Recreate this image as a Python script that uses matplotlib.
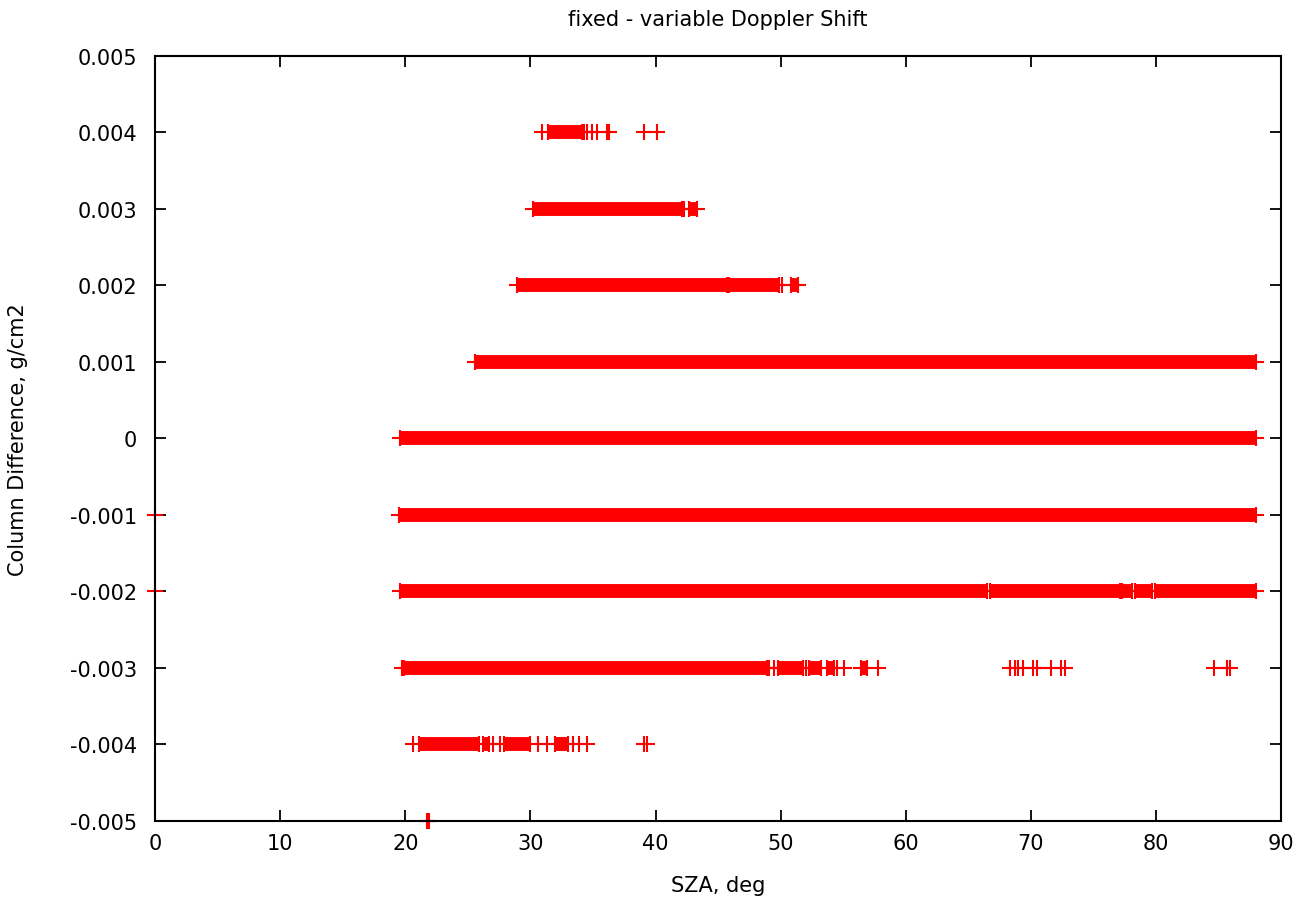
import matplotlib
matplotlib.use('Agg')
import matplotlib.pyplot as plt

# Column difference levels (g/cm2) and the SZA data at each level.
# runs_* : dense stretches of points (first SZA, last SZA)
# pts_*  : isolated points (SZA)
runs_p004 = [(31.4, 34.1)]
pts_p004 = [30.9, 34.3, 34.5, 34.9, 35.3, 36.1, 36.3, 39.1, 40.1]

runs_p003 = [(30.2, 42.1), (42.7, 43.3)]
pts_p003 = [42.3]

runs_p002 = [(28.9, 45.7), (45.9, 49.9), (50.8, 51.4)]
pts_p002 = [50.1]

runs_p001 = [(25.6, 88.0)]
pts_p001 = []

runs_000 = [(19.6, 88.0)]
pts_000 = []

runs_m001 = [(19.5, 88.0)]
pts_m001 = [0.0]

runs_m002 = [(19.6, 66.5), (66.7, 77.1), (77.3, 78.1), (78.3, 79.7), (79.9, 88.0)]
pts_m002 = [0.0]

runs_m003 = [(19.9, 48.9), (49.8, 51.8), (52.3, 53.2), (53.7, 54.3), (56.4, 56.9)]
pts_m003 = [19.7, 49.1, 49.5, 52.0, 54.5, 55.1, 57.8,
            68.3, 68.7, 69.0, 69.4, 70.2, 70.5, 71.6, 72.4, 72.7,
            84.6, 85.7, 85.9]

runs_m004 = [(21.1, 25.9), (26.2, 26.7), (27.9, 30.0), (32.0, 33.0)]
pts_m004 = [20.6, 27.0, 27.6, 30.6, 31.3, 33.4, 33.9, 34.5, 39.1, 39.3]

runs_m005 = []
pts_m005 = [21.7, 21.9]

levels = [0.004, 0.003, 0.002, 0.001, 0.0, -0.001, -0.002, -0.003, -0.004, -0.005]
all_runs = [runs_p004, runs_p003, runs_p002, runs_p001, runs_000,
            runs_m001, runs_m002, runs_m003, runs_m004, runs_m005]
all_pts = [pts_p004, pts_p003, pts_p002, pts_p001, pts_000,
           pts_m001, pts_m002, pts_m003, pts_m004, pts_m005]

y_ticks = [0.005, 0.004, 0.003, 0.002, 0.001, 0.0, -0.001, -0.002, -0.003, -0.004, -0.005]
y_tick_labels = ['0.005', '0.004', '0.003', '0.002', '0.001', '0',
                 '-0.001', '-0.002', '-0.003', '-0.004', '-0.005']
x_ticks = [0, 10, 20, 30, 40, 50, 60, 70, 80, 90]

plt.rcParams['font.family'] = ['DejaVu Sans']

fig = plt.figure(figsize=(13.14, 9.04), dpi=100)
ax = fig.add_axes([0.118, 0.091, 0.857, 0.846])

red = '#ff0000'
for y, runs, pts in zip(levels, all_runs, all_pts):
    for x0, x1 in runs:
        ax.plot([x0, x1], [y, y], color=red, lw=10, solid_capstyle='butt',
                zorder=2, clip_on=False)
        ax.plot([x0, x1], [y, y], '+', color=red, ms=11, mew=1.5,
                zorder=2, clip_on=False)
    if pts:
        ax.plot(pts, [y] * len(pts), '+', color=red, ms=11, mew=1.5,
                linestyle='none', zorder=2, clip_on=False)

ax.set_xlim(0, 90)
ax.set_ylim(-0.005, 0.005)
ax.set_xticks(x_ticks)
ax.set_yticks(y_ticks)
ax.set_yticklabels(y_tick_labels)

ax.tick_params(direction='in', length=8, width=1.3, labelsize=15,
               top=True, right=True)
ax.tick_params(axis='x', pad=9)
ax.tick_params(axis='y', pad=13)
for sp in ax.spines.values():
    sp.set_linewidth(1.5)
    sp.set_zorder(3)

ax.set_title('fixed - variable Doppler Shift', fontsize=15, pad=22)
ax.set_xlabel('SZA, deg', fontsize=15, labelpad=16)
ax.set_ylabel('Column Difference, g/cm2', fontsize=15, labelpad=30)

fig.savefig('out.png', dpi=100)
